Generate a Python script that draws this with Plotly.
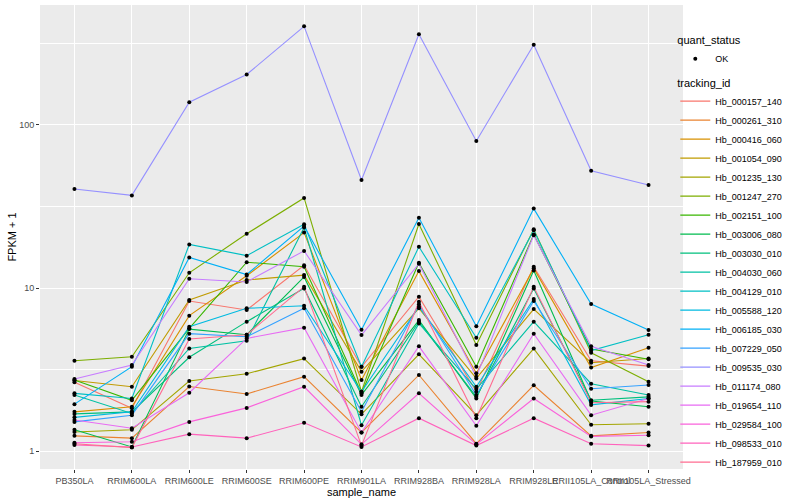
import plotly.graph_objects as go

samples = ["PB350LA", "RRIM600LA", "RRIM600LE", "RRIM600SE", "RRIM600PE", "RRIM901LA",
           "RRIM928BA", "RRIM928LA", "RRIM928LE", "RRII105LA_Control", "RRII105LA_Stressed"]

tracking_ids = ["Hb_000157_140", "Hb_000261_310", "Hb_000416_060", "Hb_001054_090",
                "Hb_001235_130", "Hb_001247_270", "Hb_002151_100", "Hb_003006_080",
                "Hb_003030_010", "Hb_004030_060", "Hb_004129_010", "Hb_005588_120",
                "Hb_006185_030", "Hb_007229_050", "Hb_009535_030", "Hb_011174_080",
                "Hb_019654_110", "Hb_029584_100", "Hb_098533_010", "Hb_187959_010"]

colors = ["#F8766D", "#EA8331", "#D89000", "#C09B00", "#A3A500", "#7CAE00", "#39B600",
          "#00BB4E", "#00BF7D", "#00C1A3", "#00BFC4", "#00BAE0", "#00B0F6", "#35A2FF",
          "#9590FF", "#C77CFF", "#E76BF3", "#FA62DB", "#FF62BC", "#FF6C91"]

# FPKM + 1 values per tracking_id, in sample order
Hb_000157_140 = [2.64, 1.83, 8.32, 7.33, 13.8, 3.29, 8.85, 2.31, 13.5, 3.58, 3.32]
Hb_000261_310 = [1.24, 1.20, 2.49, 2.24, 2.86, 1.30, 2.93, 1.11, 2.53, 1.24, 1.30]
Hb_000416_060 = [1.74, 1.87, 6.77, 11.9, 21.9, 2.73, 12.7, 3.00, 13.2, 3.25, 4.30]
Hb_001054_090 = [2.71, 2.48, 8.44, 11.2, 12.0, 3.07, 7.51, 2.79, 7.43, 3.48, 3.70]
Hb_001235_130 = [1.31, 1.35, 2.69, 2.98, 3.69, 1.68, 3.92, 1.66, 4.25, 1.45, 1.47]
Hb_001247_270 = [3.58, 3.79, 12.4, 21.5, 35.7, 2.31, 24.7, 4.47, 22.9, 4.01, 2.66]
Hb_002151_100 = [2.73, 2.05, 5.66, 14.4, 13.5, 2.26, 14.3, 3.29, 21.3, 4.22, 3.66]
Hb_003006_080 = [1.35, 1.06, 5.60, 5.17, 11.7, 2.21, 6.36, 2.10, 12.8, 2.03, 1.87]
Hb_003030_010 = [1.69, 1.74, 3.76, 6.22, 9.95, 1.87, 6.22, 2.15, 9.95, 2.05, 2.15]
Hb_004030_060 = [2.21, 1.70, 4.26, 4.75, 23.5, 1.44, 6.07, 2.40, 6.22, 2.59, 2.21]
Hb_004129_010 = [2.26, 2.10, 18.5, 15.8, 24.6, 3.29, 17.9, 4.96, 22.6, 4.13, 5.17]
Hb_005588_120 = [1.61, 1.74, 5.79, 7.51, 7.79, 2.31, 7.68, 2.48, 8.56, 1.92, 2.10]
Hb_006185_030 = [1.94, 3.29, 15.4, 12.1, 24.0, 5.55, 27.0, 5.82, 30.7, 7.98, 5.53]
Hb_007229_050 = [1.51, 1.66, 5.25, 5.03, 7.51, 1.74, 7.94, 2.21, 8.32, 2.41, 2.54]
Hb_009535_030 = [40.5, 37.0, 138, 204, 403, 46.0, 360, 79.8, 311, 52.4, 42.9]
Hb_011174_080 = [2.77, 3.37, 11.4, 10.9, 16.9, 5.15, 14.1, 2.86, 21.1, 4.39, 3.37]
Hb_019654_110 = [1.55, 1.38, 2.28, 4.91, 5.71, 1.30, 4.39, 1.43, 5.25, 1.66, 2.10]
Hb_029584_100 = [1.125, 1.14, 1.51, 1.84, 2.48, 1.10, 2.26, 1.10, 2.10, 1.23, 1.25]
Hb_098533_010 = [1.09, 1.06, 1.27, 1.20, 1.49, 1.06, 1.59, 1.08, 1.59, 1.11, 1.08]
Hb_187959_010 = [1.11, 1.05, 4.87, 5.17, 10.2, 1.08, 8.24, 1.59, 10.2, 1.98, 2.01]

series = [Hb_000157_140, Hb_000261_310, Hb_000416_060, Hb_001054_090, Hb_001235_130,
          Hb_001247_270, Hb_002151_100, Hb_003006_080, Hb_003030_010, Hb_004030_060,
          Hb_004129_010, Hb_005588_120, Hb_006185_030, Hb_007229_050, Hb_009535_030,
          Hb_011174_080, Hb_019654_110, Hb_029584_100, Hb_098533_010, Hb_187959_010]

y_ticks = [1, 10, 100]
y_minor = [3.1623, 31.623, 316.23]

FONT = "Liberation Sans, Arial, sans-serif"

fig = go.Figure()
for name, col, vals in zip(tracking_ids, colors, series):
    fig.add_trace(go.Scatter(x=samples, y=vals, mode="lines", name=name,
                             line=dict(color=col, width=1.1), legend="legend2",
                             showlegend=True))

px, py = [], []
for vals in series:
    px.extend(samples)
    py.extend(vals)
fig.add_trace(go.Scatter(x=px, y=py, mode="markers", name="OK",
                         marker=dict(color="black", size=4), legend="legend",
                         showlegend=True))

fig.update_layout(
    width=800, height=500, showlegend=True,
    margin=dict(l=40, r=117, t=5, b=31, autoexpand=False),
    paper_bgcolor="white", plot_bgcolor="#EBEBEB",
    font=dict(family=FONT, size=9, color="#4D4D4D"),
    legend=dict(title=dict(text="quant_status", font=dict(size=11, color="black")),
                x=0.988, xanchor="left", y=0.946, yanchor="top",
                font=dict(size=9, color="black"), bgcolor="rgba(0,0,0,0)",
                tracegroupgap=0, itemwidth=30),
    legend2=dict(title=dict(text="tracking_id", font=dict(size=11, color="black")),
                 x=0.988, xanchor="left", y=0.855, yanchor="top",
                 font=dict(size=9, color="black"), bgcolor="rgba(0,0,0,0)",
                 tracegroupgap=0, itemwidth=30),
)

fig.update_xaxes(
    type="category", categoryorder="array", categoryarray=samples,
    range=[-0.6, len(samples) - 0.4],
    showgrid=True, gridcolor="white", gridwidth=1.1,
    ticks="outside", ticklen=3, tickcolor="#333333", tickwidth=1,
    tickangle=0, tickfont=dict(size=9, color="#4D4D4D"),
    showline=False, zeroline=False,
    title=dict(text="sample_name", font=dict(size=11, color="black"), standoff=0),
)

fig.update_yaxes(
    type="log", range=[-0.110, 2.736],
    tickvals=y_ticks, ticktext=[str(v) for v in y_ticks],
    showgrid=True, gridcolor="white", gridwidth=1.1,
    minor=dict(tickvals=y_minor, showgrid=True, gridcolor="white", gridwidth=0.5, ticklen=0),
    ticks="outside", ticklen=3, tickcolor="#333333", tickwidth=1,
    tickfont=dict(size=9, color="#4D4D4D"),
    showline=False, zeroline=False,
    title=dict(text="FPKM + 1", font=dict(size=11, color="black"), standoff=0),
)

fig.write_html("out.html", config={"displayModeBar": False},
               post_script="document.body.style.margin='0';document.body.style.padding='0';")
